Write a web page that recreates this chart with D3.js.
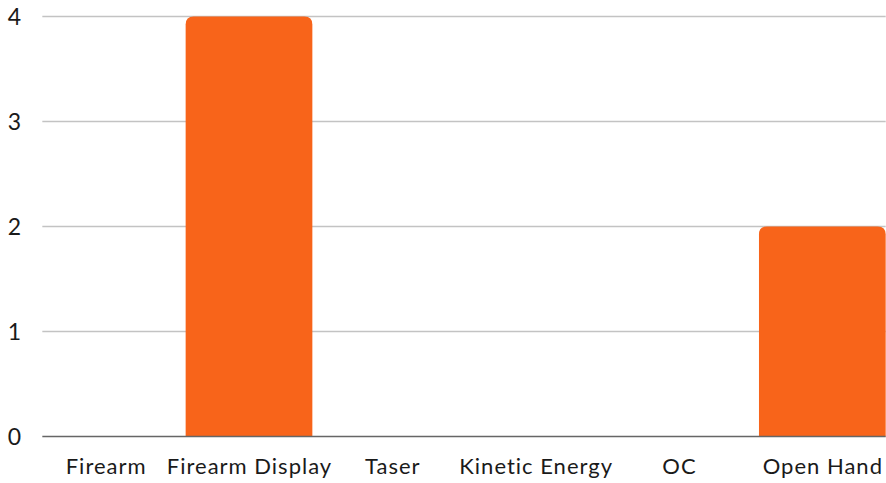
<!DOCTYPE html>
<html>
<head>
<meta charset="utf-8">
<script src="https://cdn.jsdelivr.net/npm/d3@7"></script>
<style>
  body { margin: 0; background: #fff; }
  text { font-family: Lato, "Open Sans", sans-serif; fill: #1a1a1a; }
</style>
</head>
<body>
<div id="chart"></div>
<script>
const categories = ["Firearm", "Firearm Display", "Taser", "Kinetic Energy", "OC", "Open Hand"];
const counts = [0, 4, 0, 0, 0, 2];
const yTicks = [0, 1, 2, 3, 4];

const width = 886;
const height = 483;

const svg = d3.select("#chart")
    .append("svg")
    .attr("width", width)
    .attr("height", height);

const x = d3.scaleBand()
    .domain(categories)
    .range([34, 894])
    .paddingInner(0.116)
    .paddingOuter(0.058);

const y = d3.scaleLinear()
    .domain([0, 4])
    .range([436.5, 16.5]);

const x0 = x(categories[0]);
const x1 = x(categories[categories.length - 1]) + x.bandwidth();

// gridlines
svg.selectAll(".grid")
    .data(yTicks.filter(d => d > 0))
    .enter()
    .append("line")
    .attr("class", "grid")
    .attr("x1", x0).attr("x2", x1)
    .attr("y1", d => y(d)).attr("y2", d => y(d))
    .attr("stroke", "#c3c3c3")
    .attr("stroke-width", 1.3);

// y labels
svg.selectAll(".ylab")
    .data(yTicks)
    .enter()
    .append("text")
    .attr("class", "ylab")
    .attr("x", 14.5)
    .attr("y", d => y(d))
    .attr("dy", "0.36em")
    .attr("text-anchor", "middle")
    .style("font-size", "23px")
    .text(d => d);

// bars with rounded top corners
const r = 8;
function barPath(d, i) {
    const bx = x(categories[i]);
    const bw = x.bandwidth();
    const top = y(d);
    const bottom = y(0);
    if (d <= 0) return null;
    return `M${bx},${bottom} V${top + r} Q${bx},${top} ${bx + r},${top} H${bx + bw - r} Q${bx + bw},${top} ${bx + bw},${top + r} V${bottom} Z`;
}

svg.selectAll(".bar")
    .data(counts)
    .enter()
    .append("path")
    .attr("class", "bar")
    .attr("d", (d, i) => barPath(d, i))
    .attr("fill", "#f8641a");

// baseline
svg.append("line")
    .attr("x1", x0).attr("x2", x1)
    .attr("y1", y(0)).attr("y2", y(0))
    .attr("stroke", "#666")
    .attr("stroke-width", 1.5);

// x labels
svg.selectAll(".xlab")
    .data(categories)
    .enter()
    .append("text")
    .attr("class", "xlab")
    .attr("x", d => x(d) + x.bandwidth() / 2 + 0.5)
    .attr("y", 474)
    .attr("text-anchor", "middle")
    .style("font-size", "22px")
    .style("letter-spacing", "1px")
    .text(d => d);
</script>
</body>
</html>
